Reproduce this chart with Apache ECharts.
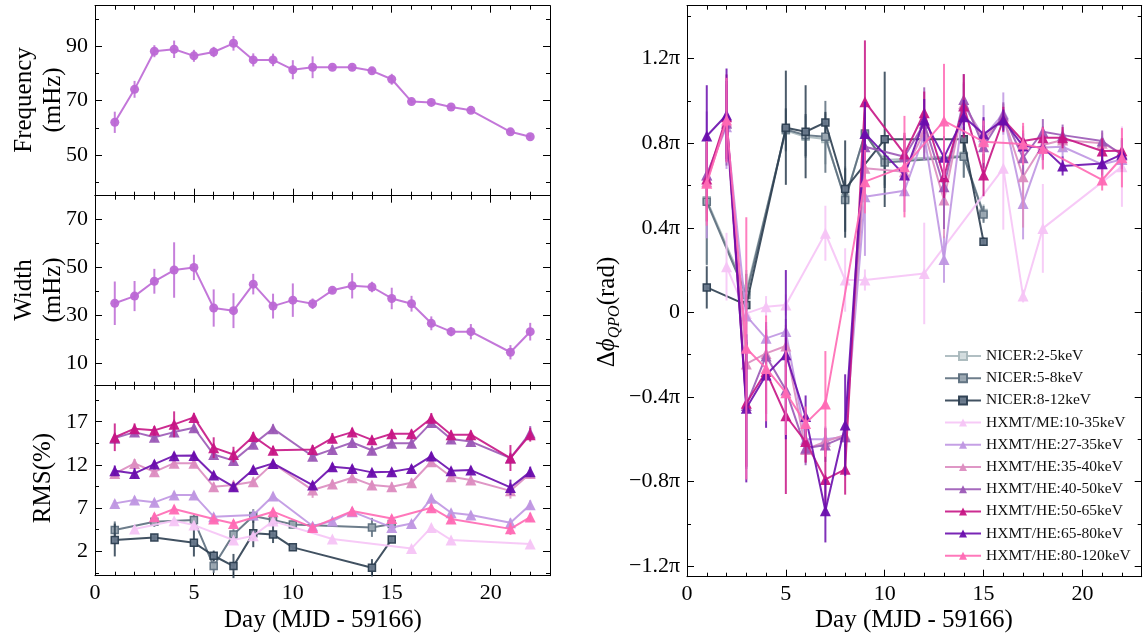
<!DOCTYPE html>
<html>
<head>
<meta charset="utf-8">
<script src="https://cdn.jsdelivr.net/npm/echarts@6/dist/echarts.min.js"></script>
<style>
html,body{margin:0;padding:0;background:#fff;}
#chart{width:1146px;height:639px;}
</style>
</head>
<body>
<div id="chart"></div>
<script>
// ---------- data, rows are [day, value, error] ----------
const freqData = [[1,62.0,3.9],[2,74.1,3.1],[3,88.1,2.2],[4,88.8,3.2],[5,86.4,2.2],[6,87.8,1.9],[7,91.0,2.7],[8,84.9,2.4],[9,84.9,2.3],[10,81.3,3.5],[11,82.2,4.0],[12,82.2,0.8],[13,82.2,1.0],[14,80.9,1.0],[15,77.8,2.0],[16,69.6,0.8],[17,69.3,0.8],[18,67.6,0.8],[19,66.4,0.8],[21,58.5,0.8],[22,56.7,0.8]];
const widthData = [[1,34.9,9.1],[2,37.9,6.3],[3,44.1,5.2],[4,48.8,11.6],[5,49.9,5.3],[6,32.9,7.8],[7,31.8,7.3],[8,42.9,4.3],[9,33.7,5.2],[10,36.2,7.0],[11,34.7,2.2],[12,40.3,1.2],[13,42.2,5.3],[14,41.7,2.2],[15,36.9,4.5],[16,34.7,3.3],[17,26.5,2.9],[18,23.0,1.9],[19,23.0,3.2],[21,14.4,3.0],[22,23.0,3.7]];

// fractional rms (%) per energy band
const rmsN58 = [[1,4.46,1.0],[3,5.43,0.6],[5,5.62,0.6],[6,0.3,0.8],[7,3.96,0.6],[8,6.08,0.8],[9,5.62,0.7],[10,5.12,0.4],[14,4.77,1.1],[15,5.16,0.4]];
const rmsN812 = [[1,3.31,1.9],[3,3.61,0.4],[5,3.0,1.6],[6,1.49,0.6],[7,0.3,1.4],[8,4.08,1.6],[9,3.96,1.0],[10,2.46,0.3],[14,0.1,1.0],[15,3.38,0.3]];
const rmsME = [[2,4.58,0.3],[4,5.54,0.3],[5,5.04,0.3],[7,3.31,0.3],[8,3.81,0.3],[9,5.5,0.3],[12,3.42,0.3],[16,2.34,0.3],[17,4.77,0.3],[18,3.31,0.3],[22,2.85,0.3]];
const rms2735 = [[1,7.55,0.4],[2,7.94,0.4],[3,7.67,0.4],[4,8.51,0.4],[5,8.51,0.4],[6,6.01,0.4],[8,6.2,0.4],[9,8.4,0.4],[11,4.93,0.4],[12,5.5,0.4],[13,6.59,0.4],[15,4.77,0.4],[16,5.23,0.4],[17,8.13,0.4],[18,6.47,0.4],[19,6.2,0.4],[21,5.3,0.5],[22,7.4,0.5]];
const rms3540 = [[1,11.0,0.5],[2,12.18,0.5],[3,11.2,0.5],[4,12.2,0.5],[5,12.2,0.5],[6,9.48,0.5],[7,9.67,0.5],[8,10.06,0.5],[9,12.18,0.5],[11,9.09,0.9],[12,9.79,0.5],[13,10.52,0.5],[14,9.67,0.5],[15,9.48,0.5],[16,9.94,0.5],[17,12.37,0.5],[18,10.64,0.5],[19,10.25,0.5],[21,9.0,0.9],[22,11.0,0.6]];
const rms4050 = [[1,15.1,0.5],[2,15.8,0.5],[3,15.2,0.5],[4,15.8,0.5],[5,16.3,0.5],[6,13.2,0.5],[7,12.5,0.5],[8,14.4,0.5],[9,16.2,0.5],[11,13.0,0.5],[12,13.8,0.5],[13,14.6,0.5],[14,13.7,0.5],[15,14.5,0.5],[16,14.5,0.5],[17,16.9,0.5],[18,15.0,0.5],[19,14.7,0.5],[21,12.8,0.6],[22,15.7,0.8]];
const rms5065 = [[1,15.2,1.6],[2,16.2,0.6],[3,16.0,0.5],[4,16.7,1.5],[5,17.5,0.5],[6,14.0,1.2],[7,13.2,0.9],[8,15.3,0.5],[9,13.7,0.5],[11,13.8,0.5],[12,15.1,0.6],[13,15.8,0.5],[14,14.9,0.5],[15,15.6,0.5],[16,15.6,0.5],[17,17.4,0.6],[18,15.5,0.5],[19,15.5,0.5],[21,12.8,1.5],[22,15.5,0.8]];
const rms6580 = [[1,11.33,0.6],[2,11.02,0.6],[3,12.1,0.4],[4,13.07,0.4],[5,13.1,0.4],[6,10.83,0.4],[7,9.48,0.5],[8,11.48,0.4],[9,12.18,0.4],[11,9.67,0.4],[12,11.8,0.4],[13,11.6,0.4],[14,11.14,0.4],[15,11.2,0.4],[16,11.6,0.4],[17,13.03,0.4],[18,11.33,0.4],[19,11.4,0.4],[21,9.4,0.9],[22,11.2,0.6]];
const rms80120 = [[3,6.01,0.4],[4,6.9,0.4],[6,5.74,0.4],[7,5.23,0.4],[9,6.59,0.4],[11,4.77,0.4],[13,6.66,0.4],[15,5.81,0.4],[17,7.05,0.4],[18,5.74,0.4],[21,4.6,0.7],[22,5.96,0.5]];

// QPO phase lag, in units of pi
const phN25 = [[1,0.53,0.3],[3,0.1,0.1],[5,0.86,0.1],[6,0.83,0.1],[7,0.82,0.12],[8,0.54,0.15],[9,0.84,0.1],[10,0.72,0.12],[14,0.74,0.1],[15,0.47,0.04]];
const phN58 = [[1,0.523,0.3],[3,0.082,0.1],[5,0.865,0.1],[6,0.838,0.1],[7,0.83,0.17],[8,0.531,0.15],[9,0.846,0.1],[10,0.708,0.12],[14,0.736,0.1],[15,0.463,0.04]];
const phN812 = [[1,0.118,0.1],[3,0.035,0.05],[5,0.873,0.27],[6,0.854,0.22],[7,0.898,0.05],[8,0.583,0.23],[10,0.818,0.32],[14,0.818,0.06],[15,0.334,0.02]];
const phME = [[2,0.216,0.16],[3,-0.005,0.05],[4,0.027,0.05],[5,0.035,0.05],[7,0.374,0.13],[8,0.153,0.15],[9,0.153,0.05],[12,0.184,0.24],[16,0.681,0.29],[17,0.077,0.03],[18,0.397,0.21],[22,0.689,0.19]];
const ph2735 = [[1,0.65,0.3],[2,0.878,0.2],[3,-0.017,0.15],[4,-0.123,0.06],[5,-0.091,0.06],[6,-0.6,0.06],[7,-0.6,0.06],[8,-0.588,0.04],[9,0.547,0.28],[11,0.575,0.1],[12,0.838,0.12],[13,0.25,0.11],[14,0.98,0.1],[15,0.83,0.15],[16,0.94,0.1],[17,0.515,0.17],[18,0.78,0.1],[19,0.783,0.05],[21,0.7,0.05],[22,0.723,0.06]];
const ph3540 = [[1,0.618,0.15],[2,0.9,0.15],[3,-0.244,0.2],[4,-0.194,0.1],[5,-0.159,0.1],[6,-0.648,0.06],[7,-0.611,0.06],[8,-0.58,0.05],[9,0.681,0.12],[11,0.665,0.1],[12,0.854,0.1],[13,0.531,0.18],[14,0.988,0.1],[15,0.815,0.1],[16,0.925,0.06],[17,0.641,0.24],[18,0.791,0.06],[19,0.815,0.05],[21,0.8,0.05],[22,0.752,0.06]];
const ph4050 = [[1,0.649,0.15],[2,0.894,0.2],[3,-0.44,0.3],[4,-0.206,0.12],[5,-0.367,0.12],[6,-0.643,0.08],[7,-0.627,0.08],[8,-0.588,0.05],[9,0.783,0.15],[11,0.736,0.1],[12,0.894,0.17],[13,0.594,0.2],[14,1.007,0.12],[15,0.783,0.1],[16,0.933,0.06],[17,0.731,0.08],[18,0.854,0.06],[19,0.838,0.05],[21,0.81,0.05],[22,0.744,0.08]];
const ph5065 = [[1,0.63,0.2],[2,0.925,0.2],[3,-0.43,0.3],[4,-0.28,0.2],[5,-0.489,0.37],[6,-0.611,0.1],[7,-0.79,0.15],[8,-0.742,0.12],[9,0.996,0.29],[11,0.749,0.1],[12,0.944,0.1],[13,0.641,0.1],[14,0.976,0.15],[15,0.649,0.1],[16,0.912,0.06],[17,0.81,0.05],[18,0.826,0.05],[19,0.826,0.05],[21,0.763,0.06],[22,0.764,0.06]];
const ph6580 = [[1,0.834,0.24],[2,0.933,0.22],[3,-0.454,0.35],[4,-0.296,0.25],[5,-0.2,0.4],[6,-0.493,0.1],[7,-0.938,0.15],[8,-0.533,0.24],[9,0.846,0.15],[11,0.649,0.1],[12,0.909,0.1],[13,0.733,0.1],[14,0.925,0.08],[15,0.843,0.08],[16,0.909,0.05],[17,0.786,0.06],[18,0.78,0.06],[19,0.692,0.045],[21,0.704,0.07],[22,0.747,0.07]];
const ph80120 = [[1,0.61,0.2],[2,0.909,0.2],[3,-0.17,0.62],[4,-0.265,0.25],[5,-0.38,0.2],[6,-0.525,0.08],[7,-0.433,0.25],[9,0.618,0.15],[11,0.689,0.24],[13,0.905,0.27],[15,0.807,0.1],[17,0.796,0.1],[18,0.775,0.1],[21,0.626,0.05],[22,0.731,0.14]];

// tick positions
const xMajor = [0,5,10,15,20];
const xMinor = [1,2,3,4,6,7,8,9,11,12,13,14,16,17,18,19,21,22];
const freqMajor = [50,70,90], freqMinor = [40,60,80,100];
const widthMajor = [10,30,50,70], widthMinor = [20,40,60];
const rmsMajor = [2,7,12,17], rmsMinor = [-0.5,4.5,9.5,14.5,19.5];
const phMajor = [-1.2,-0.8,-0.4,0,0.4,0.8,1.2], phMinor = [-1.0,-0.6,-0.2,0.2,0.6,1.0,1.4];

// band names
const bandNames = ['NICER:2-5keV','NICER:5-8keV','NICER:8-12keV','HXMT/ME:10-35keV','HXMT/HE:27-35keV','HXMT/HE:35-40keV','HXMT/HE:40-50keV','HXMT/HE:50-65keV','HXMT/HE:65-80keV','HXMT/HE:80-120keV'];

// ---------- styling ----------
const SERIF = "'Liberation Serif', 'DejaVu Serif', serif";
const bandColor = ['#a9b8bc','#5d6f7e','#2c3e50','#f6c4f6','#bf96e2','#dc8cc0','#9b59b6','#c71585','#6a0dad','#ff69b4'];
const bandFill  = ['#d3dcde','#9aa7b1','#67778a', null, null, null, null, null, null, null];
const freqColor = '#bc68d5';

const panels = [
  {left:95, top:5.7, width:455, height:190, ymin:35.06, ymax:104.8, yMajor:freqMajor, yMinor:freqMinor, xLabels:false, fmt:v=>String(v)},
  {left:95, top:195.7, width:455, height:190, ymin:0.4, ymax:79.9, yMajor:widthMajor, yMinor:widthMinor, xLabels:false, fmt:v=>String(v)},
  {left:95, top:385.7, width:455, height:190, ymin:-0.82, ymax:21.17, yMajor:rmsMajor, yMinor:rmsMinor, xLabels:true, fmt:v=>String(v)},
  {left:687, top:5.7, width:454.7, height:571, ymin:-1.25, ymax:1.45, yMajor:phMajor, yMinor:phMinor, xLabels:true,
   fmt:v=> v===0 ? '0' : (v<0?'\u2212':'') + Math.abs(v).toFixed(1) + '\u03c0'}
];

const grids = [], xAxes = [], yAxes = [];
const black = {color:'#000', width:1};
const labelFont = {fontFamily:SERIF, fontSize:22, color:'#000'};

panels.forEach((p, i) => {
  grids[i] = {left:p.left, top:p.top, width:p.width, height:p.height, containLabel:false};
  grids[i+4] = {left:p.left, top:p.top, width:p.width, height:p.height, containLabel:false};
});
panels.forEach((p, i) => {
  const xb = {type:'value', min:0, max:23, splitLine:{show:false}, axisPointer:{show:false}};
  const yb = {type:'value', min:p.ymin, max:p.ymax, splitLine:{show:false}, axisPointer:{show:false}};
  // major ticks + frame
  xAxes.push(Object.assign({}, xb, {gridIndex:i, position:'bottom',
    axisLine:{show:true, onZero:false, lineStyle:black},
    axisTick:{show:true, inside:true, length:7, customValues:xMajor, lineStyle:black},
    axisLabel:{show:p.xLabels, customValues:xMajor, margin:7, ...labelFont}}));
  xAxes.push(Object.assign({}, xb, {gridIndex:i, position:'top',
    axisLine:{show:true, onZero:false, lineStyle:black},
    axisTick:{show:true, inside:true, length:7, customValues:xMajor, lineStyle:black},
    axisLabel:{show:false}}));
  // minor ticks
  xAxes.push(Object.assign({}, xb, {gridIndex:i+4, position:'bottom',
    axisLine:{show:false, onZero:false},
    axisTick:{show:true, inside:true, length:4, customValues:xMinor, lineStyle:black},
    axisLabel:{show:false}}));
  xAxes.push(Object.assign({}, xb, {gridIndex:i+4, position:'top',
    axisLine:{show:false, onZero:false},
    axisTick:{show:true, inside:true, length:4, customValues:xMinor, lineStyle:black},
    axisLabel:{show:false}}));

  yAxes.push(Object.assign({}, yb, {gridIndex:i, position:'left',
    axisLine:{show:true, onZero:false, lineStyle:black},
    axisTick:{show:true, inside:true, length:7, customValues:p.yMajor, lineStyle:black},
    axisLabel:{show:true, customValues:p.yMajor, margin:7, formatter:p.fmt, ...labelFont}}));
  yAxes.push(Object.assign({}, yb, {gridIndex:i, position:'right',
    axisLine:{show:true, onZero:false, lineStyle:black},
    axisTick:{show:true, inside:true, length:7, customValues:p.yMajor, lineStyle:black},
    axisLabel:{show:false}}));
  yAxes.push(Object.assign({}, yb, {gridIndex:i+4, position:'left',
    axisLine:{show:false, onZero:false},
    axisTick:{show:true, inside:true, length:4, customValues:p.yMinor, lineStyle:black},
    axisLabel:{show:false}}));
  yAxes.push(Object.assign({}, yb, {gridIndex:i+4, position:'right',
    axisLine:{show:false, onZero:false},
    axisTick:{show:true, inside:true, length:4, customValues:p.yMinor, lineStyle:black},
    axisLabel:{show:false}}));
});

// error bars + connected markers for one data set
let zCounter = 10;
function errorLine(name, rows, color, fill, symbol, size, panel) {
  const ax = 4 * panel;
  const z = zCounter++;
  const bars = {
    type:'custom', xAxisIndex:ax, yAxisIndex:ax, z:z, silent:true, animation:false,
    encode:{x:0, y:1}, data:rows,
    renderItem:(params, api) => {
      const x = api.value(0), y = api.value(1), e = api.value(2);
      const a = api.coord([x, y + e]), b = api.coord([x, y - e]);
      return {type:'line', shape:{x1:a[0], y1:a[1], x2:b[0], y2:b[1]},
              style:{stroke:color, lineWidth:2, opacity:0.85}};
    }
  };
  const line = {
    type:'line', name:name, xAxisIndex:ax, yAxisIndex:ax, z:z, animation:false,
    data:rows.map(r => [r[0], r[1]]),
    symbol:symbol, symbolSize:size, showAllSymbol:true,
    lineStyle:{color:color, width:2, opacity:0.9},
    itemStyle:{color:fill || color, borderColor:color, borderWidth:symbol === 'rect' ? 1.5 : 0, opacity:0.95},
    emphasis:{disabled:true}
  };
  return [bars, line];
}

const series = [];
series.push(...errorLine('Frequency', freqData, freqColor, null, 'circle', 9, 0));
series.push(...errorLine('Width', widthData, freqColor, null, 'circle', 9, 1));

const rmsSets = [null, rmsN58, rmsN812, rmsME, rms2735, rms3540, rms4050, rms5065, rms6580, rms80120];
rmsSets.forEach((rows, k) => {
  if (!rows) return;
  const sq = k < 3;
  series.push(...errorLine(bandNames[k], rows, bandColor[k], bandFill[k], sq ? 'rect' : 'triangle', sq ? 7 : 11, 2));
});

const phSets = [phN25, phN58, phN812, phME, ph2735, ph3540, ph4050, ph5065, ph6580, ph80120];
phSets.forEach((rows, k) => {
  const sq = k < 3;
  series.push(...errorLine(bandNames[k], rows, bandColor[k], bandFill[k], sq ? 'rect' : 'triangle', sq ? 7 : 11, 3));
});

const titleFont = {fontFamily:SERIF, fontSize:25, fill:'#000'};
const graphic = [
  {type:'text', x:39, y:100, rotation:Math.PI/2, style:Object.assign({text:'Frequency\n(mHz)', align:'center', verticalAlign:'middle', lineHeight:29}, titleFont)},
  {type:'text', x:39, y:290, rotation:Math.PI/2, style:Object.assign({text:'Width\n(mHz)', align:'center', verticalAlign:'middle', lineHeight:29}, titleFont)},
  {type:'text', x:43, y:478, rotation:Math.PI/2, style:Object.assign({text:'RMS(%)', align:'center', verticalAlign:'middle'}, titleFont)},
  {type:'text', x:323, y:620, style:Object.assign({text:'Day (MJD - 59166)', align:'center', verticalAlign:'middle'}, titleFont)},
  {type:'text', x:914, y:620, style:Object.assign({text:'Day (MJD - 59166)', align:'center', verticalAlign:'middle'}, titleFont)},
  {type:'text', x:607, y:312, rotation:Math.PI/2, style:{
    text:'{n|\u0394}{i|\u03d5}{s|QPO}{n|(rad)}', align:'center', verticalAlign:'middle',
    rich:{
      n:{fontFamily:SERIF, fontSize:25, fill:'#000', lineHeight:32, verticalAlign:'middle'},
      i:{fontFamily:SERIF, fontSize:25, fontStyle:'italic', fill:'#000', lineHeight:32, verticalAlign:'middle'},
      s:{fontFamily:SERIF, fontSize:16, fontStyle:'italic', fill:'#000', lineHeight:32, verticalAlign:'bottom'}
    }}}
];

const chart = echarts.init(document.getElementById('chart'), null, {renderer:'canvas'});
chart.setOption({
  animation:false,
  backgroundColor:'#fff',
  grid:grids,
  xAxis:xAxes,
  yAxis:yAxes,
  series:series,
  graphic:graphic,
  legend:{
    data:bandNames, orient:'vertical', left:939, top:343,
    itemWidth:36, itemHeight:10, itemGap:6.2, selectedMode:false,
    textStyle:{fontFamily:SERIF, fontSize:15.5, color:'#111'}
  }
});
</script>
</body>
</html>
